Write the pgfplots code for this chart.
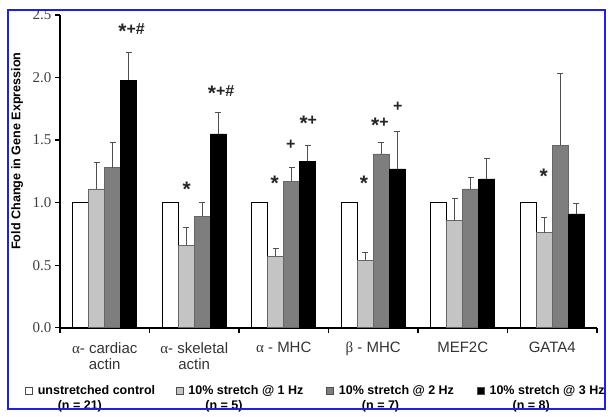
\documentclass[border=0pt]{standalone}
\usepackage{pgfplots}
\usepackage{pgfplotstable}
\pgfplotsset{compat=1.18}
\usepackage{fontspec}
\setmainfont{Liberation Sans}
\newfontfamily\serif{Liberation Serif}
\definecolor{lightbar}{HTML}{C4C4C4}
\definecolor{darkbar}{HTML}{7E7E7E}
\definecolor{framecol}{HTML}{2020E0}
\definecolor{errcol}{HTML}{505050}
\newcommand\st{\raisebox{-0.28em}{\fontsize{21}{21}\selectfont *}}

\pgfplotstableread{
x y0 y1 e1 y2 e2 y3 e3
0 1.00 1.11 0.21 1.28 0.20 1.98 0.22
1 1.00 0.66 0.14 0.89 0.11 1.55 0.17
2 1.00 0.57 0.06 1.17 0.11 1.33 0.13
3 1.00 0.54 0.06 1.39 0.09 1.27 0.30
4 1.00 0.855 0.175 1.11 0.09 1.19 0.16
5 1.00 0.76 0.125 1.46 0.57 0.91 0.08
}\datatable

\begin{document}
\begin{tikzpicture}
\begin{axis}[
  at={(60pt,88.3pt)}, anchor=south west,
  scale only axis, width=537pt, height=312.7pt,
  ymin=0, ymax=2.5, xmin=-0.5, xmax=5.5,
  axis x line*=bottom, axis y line*=left,
  axis line style={line width=2pt, black},
  ytick={0,0.5,...,2.5},
  yticklabel style={/pgf/number format/fixed, /pgf/number format/fixed zerofill,
    /pgf/number format/precision=1, /pgf/number format/assume math mode=true,
    font=\fontsize{15}{15}\serif\selectfont, text=black!75},
  xtick={-0.5,0.5,...,5.5}, xticklabels={},
  extra x ticks={0,1,2,3,4,5},
  extra x tick labels={{{\serif α}- cardiac\\actin},{{\serif α}- skeletal\\actin},{{\serif α} - MHC},{{\serif β} - MHC},{MEF2C},{GATA4}},
  extra x tick style={major tick length=0pt, xticklabel style={align=center, font=\fontsize{15}{16.5}\selectfont, text=black!80, yshift=-11pt}},
  major tick length=5pt, tick align=outside,
  tick style={line width=1.2pt, black},
  ybar=0pt, bar width=16pt,
  ylabel={Fold Change in Gene Expression},
  ylabel style={font=\bfseries\fontsize{12.6}{14}\selectfont, at={(axis description cs:-0.08,0.565)}, anchor=center},
  legend columns=4,
  legend style={draw=none, fill=none, inner sep=0pt, column sep=0pt,
    at={(axis description cs:-0.0652,-0.172)}, anchor=north west,
    font=\bfseries\fontsize{12.5}{15}\selectfont,
    cells={anchor=base west, inner sep=0pt},
    /tikz/every odd column/.style={column sep=0pt},
    /tikz/every even column/.style={column sep=0pt}},
  legend image code/.code={\draw[#1, line width=0.6pt, draw=black!70] (0pt,-0.5pt) rectangle (7pt,6.5pt); \path (10pt,0pt);},
  error bars/y dir=plus, error bars/y explicit,
  error bars/error bar style={color=errcol, line width=0.9pt},
  error bars/error mark options={rotate=90, mark size=3pt, color=errcol, line width=0.9pt},
]
\addplot[draw=black, line width=0.6pt, fill=white] table[x=x, y=y0] {\datatable};
\addplot[draw=black!60, line width=0.6pt, fill=lightbar] table[x=x, y=y1, y error=e1] {\datatable};
\addplot[draw=black!60, line width=0.6pt, fill=darkbar] table[x=x, y=y2, y error=e2] {\datatable};
\addplot[draw=black, line width=0.6pt, fill=black] table[x=x, y=y3, y error=e3] {\datatable};
\addlegendentry{\makebox[136pt][l]{\begin{tabular}[t]{@{}l@{}}unstretched control\\\hspace*{20pt}(n = 21)\end{tabular}}}
\addlegendentry{\makebox[136pt][l]{\begin{tabular}[t]{@{}l@{}}10\% stretch @ 1 Hz\\\hspace*{17pt}(n = 5)\end{tabular}}}
\addlegendentry{\makebox[136pt][l]{\begin{tabular}[t]{@{}l@{}}10\% stretch @ 2 Hz\\\hspace*{23pt}(n = 7)\end{tabular}}}
\addlegendentry{\makebox[120pt][l]{\begin{tabular}[t]{@{}l@{}}10\% stretch @ 3 Hz\\\hspace*{23pt}(n = 8)\end{tabular}}}
\begin{scope}[every node/.style={font=\bfseries\fontsize{16}{16}\selectfont, text=black!85, inner sep=0pt}]
\node at (axis cs:0.30,2.37) {\st+\#};
\node at (axis cs:1.30,1.875) {\st+\#};
\node at (axis cs:0.916,1.11) {\st};
\node at (axis cs:1.90,1.157) {\st};
\node at (axis cs:2.08,1.464) {+};
\node at (axis cs:2.274,1.638) {\st+};
\node at (axis cs:2.896,1.154) {\st};
\node at (axis cs:3.075,1.62) {\st+};
\node at (axis cs:3.273,1.77) {+};
\node at (axis cs:4.904,1.213) {\st};
\end{scope}
\end{axis}
\draw[framecol, line width=1.3pt] (8pt,7pt) rectangle (605pt,406pt);
\pgfresetboundingbox
\useasboundingbox (0pt,0pt) rectangle (612pt,416pt);
\end{tikzpicture}
\end{document}
